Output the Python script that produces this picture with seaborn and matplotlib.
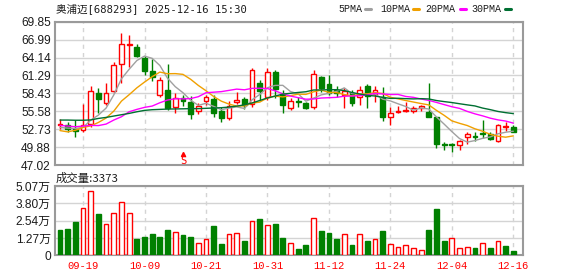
import numpy as np
import pandas as pd
import matplotlib
matplotlib.use("Agg")
import matplotlib.pyplot as plt
import seaborn as sns

# ---------------- data ----------------
dates = ["09-16", "09-17", "09-18", "09-19", "09-22", "09-23", "09-24", "09-25", "09-26", "09-29",
         "09-30", "10-09", "10-10", "10-13", "10-14", "10-15", "10-16", "10-17", "10-20", "10-21",
         "10-22", "10-23", "10-24", "10-27", "10-28", "10-29", "10-30", "10-31", "11-03", "11-04",
         "11-05", "11-06", "11-07", "11-10", "11-11", "11-12", "11-13", "11-14", "11-17", "11-18",
         "11-19", "11-20", "11-21", "11-24", "11-25", "11-26", "11-27", "11-28", "12-01", "12-02",
         "12-03", "12-04", "12-05", "12-08", "12-09", "12-10", "12-11", "12-12", "12-15", "12-16"]

opens = [53.35, 53.33, 52.80, 52.59, 53.49, 58.43, 56.84, 58.80, 63.05, 66.15,
         65.76, 64.11, 61.99, 58.11, 58.96, 56.20, 57.75, 57.10, 55.67, 57.15,
         57.53, 55.67, 54.55, 57.00, 57.50, 56.78, 60.13, 57.90, 61.83, 58.30,
         56.04, 57.26, 56.84, 56.20, 60.98, 59.92, 58.96, 58.10, 58.54, 57.80,
         59.60, 58.32, 57.85, 54.72, 55.42, 55.55, 55.68, 56.15, 55.42, 54.72,
         50.30, 50.30, 50.25, 51.41, 51.62, 52.10, 51.89, 50.90, 53.10, 53.00]
highs = [54.40, 53.86, 54.18, 56.73, 59.60, 59.28, 60.13, 63.42, 68.00, 67.73,
         66.24, 64.38, 63.85, 60.98, 63.05, 58.50, 58.17, 58.00, 56.84, 58.17,
         58.17, 56.20, 57.20, 58.65, 57.90, 62.42, 60.56, 62.42, 62.15, 58.96,
         57.64, 57.90, 57.00, 62.15, 61.19, 61.35, 59.60, 59.34, 58.96, 59.60,
         59.96, 59.60, 59.50, 56.20, 56.42, 57.00, 56.41, 56.52, 60.13, 54.72,
         50.74, 50.60, 51.00, 52.27, 52.27, 54.18, 52.27, 53.54, 53.92, 53.40]
lows = [52.75, 52.22, 51.42, 52.33, 53.12, 55.35, 56.57, 58.54, 60.13, 62.70,
        64.27, 61.35, 60.40, 57.90, 55.78, 55.30, 56.41, 54.33, 55.14, 56.57,
        54.71, 53.80, 54.18, 56.73, 56.00, 56.20, 57.37, 57.37, 57.63, 55.35,
        55.78, 56.30, 55.88, 55.88, 58.70, 58.17, 57.80, 56.04, 56.46, 56.57,
        56.15, 57.00, 54.07, 53.40, 55.25, 55.40, 55.36, 55.68, 54.70, 49.78,
        49.40, 49.03, 49.46, 50.30, 50.90, 51.40, 51.00, 50.68, 52.43, 52.33]
closes = [53.50, 52.80, 52.48, 53.33, 58.75, 57.48, 58.43, 62.89, 66.24, 66.30,
          64.43, 61.99, 61.09, 60.56, 56.15, 57.70, 57.21, 55.14, 56.41, 57.80,
          55.25, 54.55, 56.46, 57.30, 56.57, 62.15, 58.80, 61.88, 59.10, 56.62,
          57.21, 57.00, 56.04, 61.46, 59.23, 58.54, 58.50, 58.80, 56.94, 59.00,
          58.00, 58.96, 54.66, 55.36, 55.62, 55.80, 56.05, 56.42, 54.72, 50.31,
          50.15, 50.20, 50.85, 51.95, 51.50, 51.95, 51.20, 53.33, 53.20, 52.33]
prev_close_before = 53.90

# volume, unit: 万 shares
volume = [1.85, 1.93, 2.44, 3.44, 4.68, 3.02, 2.27, 3.07, 3.88, 3.07,
          1.19, 1.34, 1.54, 1.34, 1.85, 1.68, 1.49, 1.34, 0.88, 1.17,
          2.14, 0.83, 1.54, 1.61, 1.05, 2.49, 2.66, 2.19, 2.29, 1.27,
          0.88, 0.46, 0.76, 2.73, 1.78, 1.63, 1.19, 1.54, 0.76, 1.54,
          1.05, 1.19, 1.78, 0.80, 0.58, 0.73, 0.54, 0.39, 1.85, 3.39,
          1.05, 1.24, 0.54, 0.58, 0.54, 0.88, 0.54, 1.02, 0.66, 0.3373]

ma5 = [53.00, 52.90, 52.85, 53.00, 54.17, 54.97, 56.09, 58.18, 60.76, 62.27,
       63.66, 64.37, 64.01, 62.87, 60.84, 59.50, 58.54, 57.35, 56.52, 56.85,
       56.36, 55.83, 56.09, 56.27, 56.03, 57.41, 58.26, 59.34, 59.70, 59.71,
       58.72, 58.36, 57.19, 57.67, 58.19, 58.45, 58.75, 59.31, 58.40, 58.36,
       58.25, 58.34, 57.51, 57.23, 56.77, 56.34, 55.75, 56.10, 55.94, 54.67,
       53.53, 52.34, 51.23, 50.67, 50.91, 51.27, 51.49, 51.99, 52.24, 52.40]
ma10 = [52.50, 52.30, 52.55, 53.00, 53.25, 53.80, 54.50, 55.60, 57.20, 58.22,
        59.31, 60.23, 61.09, 61.82, 61.56, 61.58, 61.46, 60.68, 59.70, 58.85,
        57.93, 57.19, 56.72, 56.40, 56.44, 56.88, 57.04, 57.72, 57.99, 57.87,
        58.06, 58.31, 58.27, 58.68, 58.95, 58.59, 58.56, 58.25, 58.03, 58.27,
        58.35, 58.55, 58.41, 57.81, 57.56, 57.29, 57.05, 56.81, 56.59, 55.72,
        54.93, 54.05, 53.66, 53.31, 52.79, 52.40, 51.91, 51.61, 51.45, 51.66]
ma20 = [53.33, 53.22, 53.12, 53.22, 53.33, 53.30, 53.54, 54.18, 54.71, 55.50,
        55.88, 56.20, 56.41, 56.94, 57.37, 57.58, 57.55, 57.60, 57.90, 58.53,
        58.62, 58.71, 58.91, 59.11, 59.00, 59.23, 59.25, 59.20, 58.84, 58.36,
        58.00, 57.75, 57.50, 57.54, 57.69, 57.74, 57.80, 57.98, 58.01, 58.07,
        58.21, 58.43, 58.34, 58.25, 58.26, 57.94, 57.80, 57.53, 57.31, 56.99,
        56.64, 56.30, 56.04, 55.56, 55.17, 54.85, 54.48, 54.21, 54.02, 53.69]
ma30 = [54.18, 54.18, 54.15, 54.15, 54.20, 54.44, 54.60, 54.82, 55.03, 55.24,
        55.50, 55.72, 55.83, 55.88, 55.93, 55.95, 55.97, 56.00, 56.00, 56.05,
        56.10, 56.15, 56.25, 56.40, 56.60, 56.90, 57.30, 57.70, 58.00, 58.31,
        58.44, 58.58, 58.69, 58.97, 58.98, 59.02, 59.02, 58.88, 58.57, 58.33,
        58.12, 58.01, 57.80, 57.63, 57.65, 57.59, 57.55, 57.59, 57.54, 57.29,
        57.12, 56.97, 56.78, 56.60, 56.43, 56.09, 55.84, 55.55, 55.36, 55.21]

price_ticks = [47.02, 49.88, 52.73, 55.58, 58.43, 61.29, 64.14, 66.99, 69.85]
vol_ticks = [0, 1.27, 2.54, 3.80, 5.07]
vol_tick_labels = ["0", "1.27万", "2.54万", "3.80万", "5.07万"]
date_tick_labels = ["09-19", "10-09", "10-21", "10-31", "11-12", "11-24", "12-04", "12-16"]
signal_date = "10-16"
signal_text = "S"

title = "奥浦迈[688293] 2025-12-16 15:30"
vol_title = "成交量:3373"
ma_names = ["5PMA", "10PMA", "20PMA", "30PMA"]
ma_colors = ["#a0a0a0", "#f0a000", "#ff00ff", "#006f32"]

# ---------------- style ----------------
sns.set_theme(style="white")
plt.rcParams["font.family"] = ["Liberation Sans", "Noto Sans CJK SC", "DejaVu Sans"]

RED = "#ff0000"
GREEN = "#008000"
GRID = "#d4d4d4"
SPINE = "#9a9a9a"
TXT = "#1c1c1c"

W, H = 578, 276
fig = plt.figure(figsize=(W / 100, H / 100), dpi=100)
fig.patch.set_facecolor("white")

def fx(px):
    return px / W

def fy(py):
    return 1 - py / H

left, right = 55, 522.7
ax1 = fig.add_axes([fx(left), fy(165), (right - left) / W, (165 - 21.7) / H])
ax2 = fig.add_axes([fx(left), fy(255.3), (right - left) / W, (255.3 - 186) / H])

df = pd.DataFrame({"date": dates, "open": opens, "high": highs, "low": lows,
                   "close": closes, "vol": volume,
                   "ma5": ma5, "ma10": ma10, "ma20": ma20, "ma30": ma30})
df["i"] = np.arange(len(df))
o = df["open"].to_numpy(); c = df["close"].to_numpy()
up = c >= o
col = np.where(up, RED, GREEN)
face = np.where(up, "white", GREEN)

# ---------------- price panel ----------------
ax1.vlines(df["i"], df["low"], df["high"], colors=col, lw=1.0, zorder=3)
body_h = np.maximum(np.abs(c - o), 0.07)
ax1.bar(df["i"], body_h, bottom=np.minimum(o, c), width=0.62,
        color=face, edgecolor=col, linewidth=1.0, zorder=4)

for name, mcol in zip(["ma5", "ma10", "ma20", "ma30"], ma_colors):
    sns.lineplot(data=df, x="i", y=name, ax=ax1, color=mcol, lw=1.0,
                 zorder=5, legend=False)

xmin, xmax = -0.65, len(df) - 1 + 1.22
tick_pos = [dates.index(d) for d in date_tick_labels]
ax1.set_xlim(xmin, xmax)
ax1.set_ylim(price_ticks[0], price_ticks[-1])
ax1.set_yticks(price_ticks)
ax1.set_yticklabels([f"{v:.2f}" for v in price_ticks], fontsize=8.6, color=TXT)
ax1.set_xticks(tick_pos)
ax1.set_xticklabels([])
ax1.set_xlabel(""); ax1.set_ylabel("")
ax1.tick_params(length=0, pad=3)
ax1.grid(axis="y", color=GRID, lw=1.0, ls="-", zorder=0)
ax1.grid(axis="x", color=GRID, lw=1.0, ls=(0, (3, 3)), zorder=0)
ax1.set_axisbelow(True)
for s in ax1.spines.values():
    s.set_color(SPINE); s.set_linewidth(1.5)

# signal marker
si = dates.index(signal_date)
ax1.plot([si], [48.75], marker="^", ms=3, color=RED, zorder=6, clip_on=False)
ax1.text(si, 47.7, signal_text, color=RED, fontsize=7.5, ha="center", va="center",
         family=["DejaVu Sans Mono"], zorder=6)

# ---------------- volume panel ----------------
prev = np.concatenate([[prev_close_before], c[:-1]])
vup = c > prev
vcol = np.where(vup, RED, GREEN)
vface = np.where(vup, "white", GREEN)
ax2.bar(df["i"], df["vol"], width=0.62, color=vface, edgecolor=vcol,
        linewidth=1.0, zorder=3)
ax2.set_xlim(xmin, xmax)
ax2.set_ylim(0, vol_ticks[-1])
ax2.set_yticks(vol_ticks)
ax2.set_yticklabels(vol_tick_labels, fontsize=8.6, color=TXT)
ax2.set_xticks(tick_pos)
ax2.set_xticklabels(date_tick_labels, fontsize=7.6, color=RED,
                    family=["Liberation Mono"])
ax2.set_xlabel(""); ax2.set_ylabel("")
ax2.tick_params(length=0, pad=3)
ax2.tick_params(axis="x", pad=4)
ax2.grid(axis="y", color=GRID, lw=1.0, ls="-", zorder=0)
ax2.grid(axis="x", color=GRID, lw=1.0, ls=(0, (3, 3)), zorder=0)
ax2.set_axisbelow(True)
for s in ax2.spines.values():
    s.set_color(SPINE); s.set_linewidth(1.5)

# ---------------- texts ----------------
fig.text(fx(56), fy(9), title, fontsize=7.6, color=TXT, va="center", ha="left",
         family=["DejaVu Sans Mono", "Noto Sans CJK SC"])
fig.text(fx(56), fy(178), vol_title, fontsize=8.2, color=TXT, va="center", ha="left",
         family=["Noto Sans CJK SC", "DejaVu Sans"])

# legend: label then short colored swatch
leg_x = [338.3, 380.0, 425.7, 471.7]
sw_x = [365.0, 413.3, 460.0, 505.0]
for name, mcol, tx, sx in zip(ma_names, ma_colors, leg_x, sw_x):
    fig.text(fx(tx), fy(9), name, fontsize=7.2, color=TXT, va="center", ha="left",
             family=["Liberation Mono"])
    fig.add_artist(plt.Line2D([fx(sx), fx(sx + 5.5)], [fy(9), fy(9)],
                              transform=fig.transFigure, color=mcol, lw=2.2))

fig.savefig("out.png", dpi=100, facecolor="white")
